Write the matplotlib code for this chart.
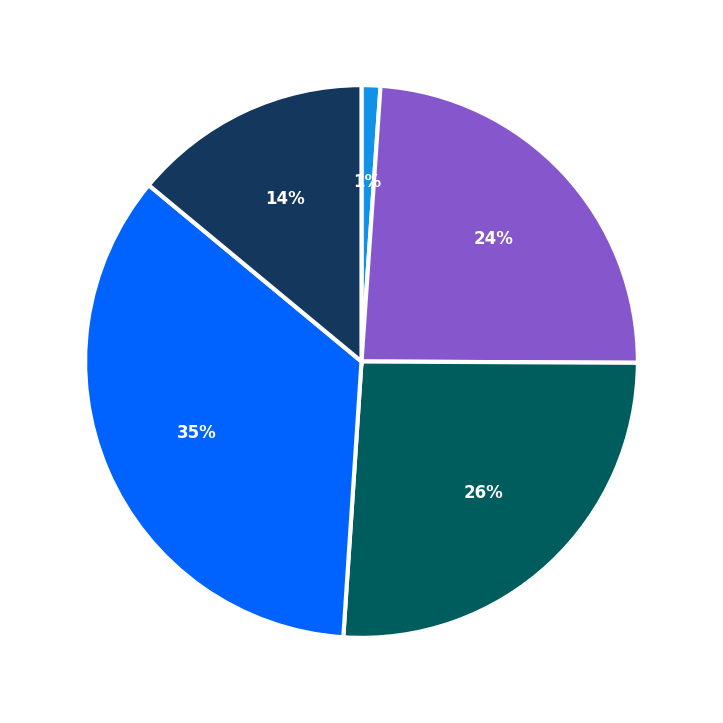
import matplotlib
matplotlib.use("Agg")
import matplotlib.pyplot as plt

values = [1.1, 24, 26, 35, 14]
colors = ["#1192e8", "#8656cc", "#005d5d", "#0062ff", "#14375e"]

fig = plt.figure(figsize=(7.23, 7.23), dpi=100)
ax = fig.add_axes([0, 0, 1, 1])
wedges, texts, autotexts = ax.pie(
    values, colors=colors, startangle=90, counterclock=False,
    autopct="%1.0f%%", pctdistance=0.65,
    wedgeprops=dict(edgecolor="white", linewidth=3),
    textprops=dict(color="white", fontsize=12, fontweight="bold"),
)
lim = 361 / 276
ax.set_xlim(-lim, lim)
ax.set_ylim(-lim, lim)
ax.set_aspect("equal")
ax.axis("off")
fig.savefig("out.png", dpi=100)
